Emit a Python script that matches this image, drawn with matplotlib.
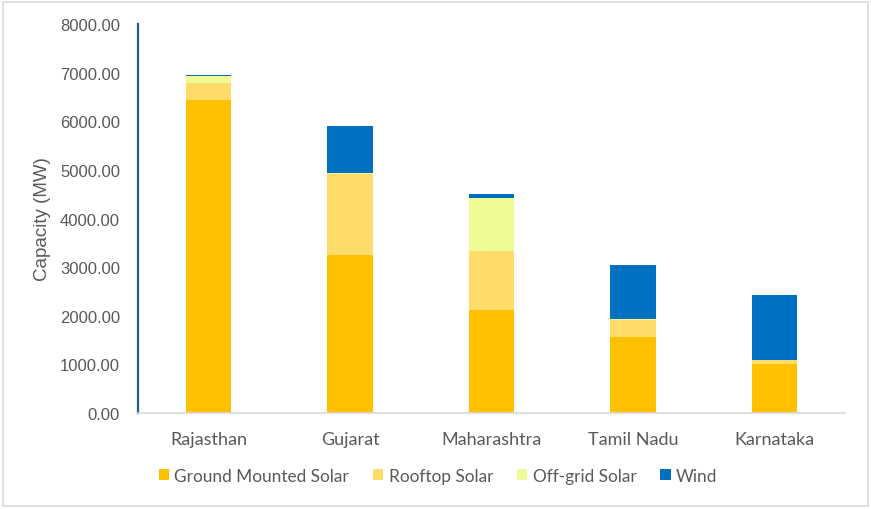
import matplotlib

matplotlib.use('Agg')
import matplotlib.pyplot as plt
from matplotlib.patches import Rectangle
import numpy as np

plt.rcParams['font.family'] = ['Lato', 'DejaVu Sans']

states = ['Rajasthan', 'Gujarat', 'Maharashtra', 'Tamil Nadu', 'Karnataka']
ground = [6440, 3240, 2125, 1570, 1000]
rooftop = [345, 1675, 1215, 335, 95]
offgrid = [150, 15, 1075, 20, 5]
wind = [20, 965, 80, 1125, 1335]

series = ['Ground Mounted Solar', 'Rooftop Solar', 'Off-grid Solar', 'Wind']
colors = ['#FFC000', '#FFDB69', '#EFFB97', '#0070C0']
grey = '#595959'

fig = plt.figure(figsize=(8.71, 5.10), dpi=100)
ax = fig.add_axes([138 / 871, 1 - 414 / 510, 707 / 871, 389 / 510])

x = np.arange(len(states))
bottom = np.zeros(len(states))
for name, vals, c in zip(series, [ground, rooftop, offgrid, wind], colors):
    ax.bar(x, vals, 0.32, bottom=bottom, color=c, label=name)
    bottom += np.array(vals)

ax.set_xlim(-0.5, 4.5)
ax.set_ylim(0, 8000)
yt = np.arange(0, 8001, 1000)
ax.set_yticks(yt)
ax.set_yticklabels([f'{v:.2f}' for v in yt], family='Liberation Sans',
                   fontsize=12)
ax.set_xticks(x)
ax.set_xticklabels(states, fontsize=13)
ax.tick_params(length=0, colors=grey)
ax.tick_params(axis='x', pad=13)
ax.tick_params(axis='y', pad=13)

for s in ['top', 'right']:
    ax.spines[s].set_visible(False)
ax.spines['left'].set_color('#1F5F8B')
ax.spines['left'].set_linewidth(1.6)
ax.spines['bottom'].set_color('#D9D9D9')
ax.spines['bottom'].set_linewidth(1.2)

ax.set_ylabel('Capacity (MW)', fontsize=13.5, color=grey, labelpad=6,
              family='Liberation Sans')

fig.legend(loc='center', bbox_to_anchor=(438 / 871, 1 - 477 / 510), ncol=4,
           frameon=False, fontsize=12.4, labelcolor=grey, handlelength=0.6,
           handleheight=0.6, handletextpad=0.3, columnspacing=1.4)

fig.patches.append(Rectangle((3 / 871, 3 / 510), 865 / 871, 504 / 510,
                             transform=fig.transFigure, fill=False,
                             edgecolor='#D9D9D9', linewidth=1.2))

fig.savefig('out.png', dpi=100)
